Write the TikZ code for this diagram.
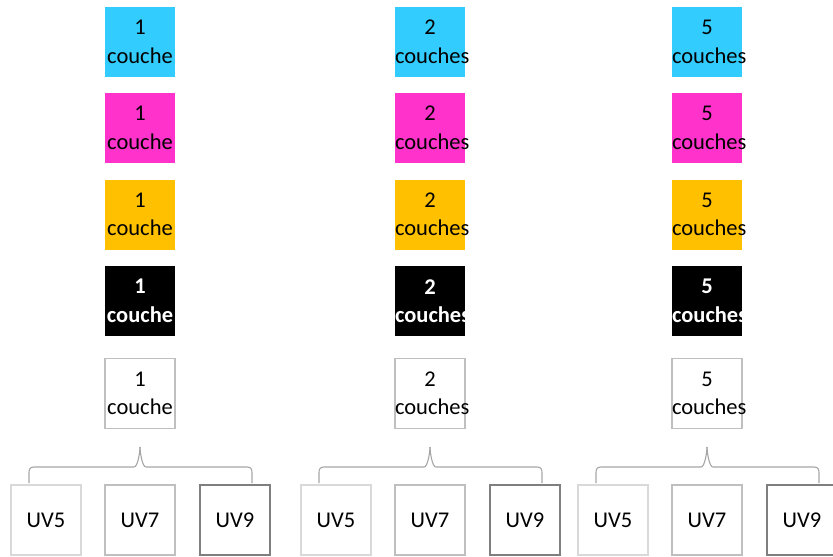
\documentclass[tikz,border=0pt]{standalone}
\usepackage{fontspec}
\usetikzlibrary{calc}
\setmainfont{Carlito}
\definecolor{ccyan}{HTML}{33CCFF}
\definecolor{cmag}{HTML}{FF33CC}
\definecolor{corange}{HTML}{FFC000}
\definecolor{gborder}{HTML}{BFBFBF}
\definecolor{glight}{HTML}{D9D9D9}
\definecolor{gdark}{HTML}{7F7F7F}
\definecolor{gbrace}{HTML}{A6A6A6}
\tikzset{
  sq/.style={minimum width=70pt, minimum height=70pt, text width=70pt, inner sep=0pt, align=center,
    font=\fontsize{22.5}{28.5}\selectfont},
  cyanbox/.style={sq, fill=ccyan},
  magbox/.style={sq, fill=cmag},
  orabox/.style={sq, fill=corange},
  blkbox/.style={sq, fill=black, text=white, font=\fontsize{22.5}{28.5}\selectfont\bfseries},
  whtbox/.style={sq, draw=gborder, line width=1.8pt},
  uvlight/.style={sq, draw=glight, line width=1.8pt},
  uvmid/.style={sq, draw=gborder, line width=1.8pt},
  uvdark/.style={sq, draw=gdark, line width=2.2pt},
  brace/.style={draw=gbrace, line width=1.1pt}
}
\begin{document}
\begin{tikzpicture}[x=1pt,y=-1pt]
\useasboundingbox (0,0) rectangle (833,557);
\foreach \cx/\n/\w/\k in {140/1/couche/a, 430/2/couches/b, 707/5/couches/c}{
  \node[cyanbox] (\k cyan) at (\cx,42) {\n\\\w};
  \node[magbox] (\k mag) at (\cx,128) {\n\\\w};
  \node[orabox] (\k ora) at (\cx,214.5) {\n\\\w};
  \node[blkbox] (\k blk) at (\cx,301) {\n\\\w};
  \node[whtbox] (\k wht) at (\cx,393.5) {\n\\\w};
  \node[uvlight] (\k uvfive) at (\cx-94,520) {UV5};
  \node[uvmid] (\k uvseven) at (\cx,520) {UV7};
  \node[uvdark] (\k uvnine) at (\cx+95,520) {UV9};
  \coordinate (\k bl) at (\cx-111,483);
  \coordinate (\k br) at (\cx+112,483);
  \coordinate (\k tip) at (\cx,447);
  \draw[brace] (\k bl) -- ++(0,-10) .. controls +(0,-4) and +(-4,0) .. ++(5,-6)
     -- ($(\k tip)+(-6,20)$) .. controls +(4,0) and +(0,4) .. (\k tip);
  \draw[brace] (\k br) -- ++(0,-10) .. controls +(0,-4) and +(4,0) .. ++(-5,-6)
     -- ($(\k tip)+(6,20)$) .. controls +(-4,0) and +(0,4) .. (\k tip);
}
\end{tikzpicture}
\end{document}
